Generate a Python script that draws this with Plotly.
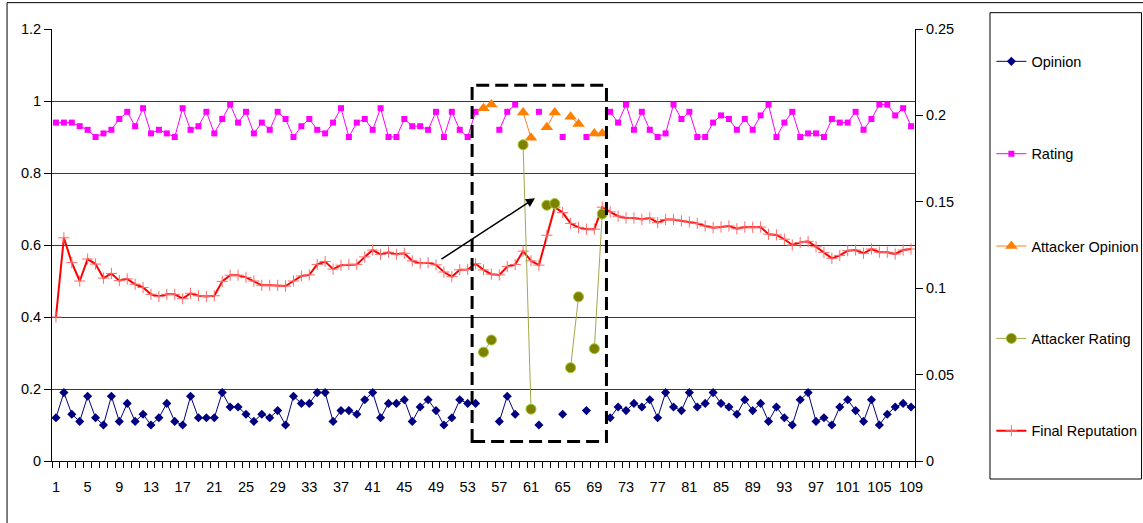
import plotly.graph_objects as go

# Round index (x axis categories 1..109)
rounds = list(range(1, 110))
N = None

opinion = [
    0.12, 0.19, 0.13, 0.11, 0.18, 0.12, 0.10, 0.18, 0.11, 0.16,
    0.11, 0.13, 0.10, 0.12, 0.16, 0.11, 0.10, 0.18, 0.12, 0.12,
    0.12, 0.19, 0.15, 0.15, 0.13, 0.11, 0.13, 0.12, 0.14, 0.10,
    0.18, 0.16, 0.16, 0.19, 0.19, 0.11, 0.14, 0.14, 0.13, 0.17,
    0.19, 0.12, 0.16, 0.16, 0.17, 0.11, 0.15, 0.17, 0.14, 0.10,
    0.12, 0.17, 0.16, 0.16, N, N, 0.11, 0.18, 0.13, N,
    N, 0.10, N, N, 0.13, N, N, 0.14, N, N,
    0.12, 0.15, 0.14, 0.16, 0.15, 0.17, 0.12, 0.19, 0.15, 0.14,
    0.19, 0.15, 0.16, 0.19, 0.16, 0.15, 0.13, 0.17, 0.14, 0.16,
    0.11, 0.15, 0.12, 0.10, 0.17, 0.19, 0.11, 0.12, 0.10, 0.15,
    0.17, 0.14, 0.11, 0.17, 0.10, 0.13, 0.15, 0.16, 0.15,
]

rating = [
    0.94, 0.94, 0.94, 0.93, 0.92, 0.90, 0.91, 0.92, 0.95, 0.97,
    0.93, 0.98, 0.91, 0.92, 0.91, 0.90, 0.98, 0.92, 0.93, 0.97,
    0.91, 0.95, 0.99, 0.94, 0.97, 0.91, 0.94, 0.92, 0.97, 0.95,
    0.90, 0.93, 0.95, 0.92, 0.91, 0.94, 0.98, 0.90, 0.94, 0.95,
    0.92, 0.98, 0.90, 0.90, 0.95, 0.93, 0.93, 0.92, 0.97, 0.90,
    0.97, 0.92, 0.90, 0.97, N, N, 0.92, 0.97, 0.99, N,
    N, 0.97, N, N, 0.90, N, N, 0.90, N, N,
    0.97, 0.94, 0.99, 0.92, 0.97, 0.92, 0.90, 0.91, 0.99, 0.95,
    0.97, 0.90, 0.90, 0.94, 0.96, 0.95, 0.92, 0.95, 0.92, 0.96,
    0.99, 0.90, 0.94, 0.97, 0.90, 0.91, 0.91, 0.90, 0.95, 0.94,
    0.94, 0.97, 0.92, 0.95, 0.99, 0.99, 0.96, 0.98, 0.93,
]

# Attack window
attack_rounds = list(range(55, 71))
attacker_opinion = [0.98, 0.99, N, N, N, 0.968, 0.898, N,
                    0.927, 0.968, N, 0.956, 0.936, N, 0.91, 0.91]
# Attacker rating is plotted against the secondary (right) axis
attacker_rating = [0.063, 0.070, N, N, N, 0.183, 0.030, N,
                   0.148, 0.149, N, 0.054, 0.095, N, 0.065, 0.143]

final_reputation = [
    0.40, 0.62, 0.551, 0.50, 0.561, 0.547, 0.508, 0.521, 0.501, 0.506,
    0.491, 0.482, 0.463, 0.457, 0.463, 0.463, 0.451, 0.466, 0.459, 0.457,
    0.459, 0.499, 0.516, 0.516, 0.51, 0.50, 0.488, 0.488, 0.488, 0.486,
    0.50, 0.514, 0.517, 0.546, 0.554, 0.533, 0.544, 0.546, 0.546, 0.567,
    0.586, 0.574, 0.58, 0.574, 0.577, 0.556, 0.549, 0.551, 0.545, 0.525,
    0.512, 0.531, 0.532, 0.548, 0.531, 0.519, 0.517, 0.54, 0.546, 0.583,
    0.556, 0.544, 0.627, 0.705, 0.69, 0.66, 0.649, 0.644, 0.644, 0.705,
    0.692, 0.68, 0.675, 0.675, 0.671, 0.675, 0.662, 0.671, 0.671, 0.667,
    0.664, 0.66, 0.653, 0.648, 0.65, 0.653, 0.645, 0.65, 0.649, 0.65,
    0.63, 0.628, 0.616, 0.60, 0.607, 0.61, 0.595, 0.579, 0.563, 0.571,
    0.584, 0.586, 0.577, 0.589, 0.58, 0.58, 0.575, 0.586, 0.589,
]

x_labels = list(range(1, 110, 4))

FONT = "Liberation Sans, Arial, sans-serif"

fig = go.Figure()

fig.add_trace(go.Scatter(
    x=rounds, y=opinion, name="Opinion", mode="lines+markers",
    line=dict(color="#000080", width=1),
    marker=dict(symbol="diamond", size=7, color="#000080"),
    legendgroup="g1",
))
fig.add_trace(go.Scatter(
    x=rounds, y=rating, name="Rating", mode="lines+markers",
    line=dict(color="#FF00FF", width=1),
    marker=dict(symbol="square", size=6, color="#FF00FF"),
    legendgroup="g2",
))
fig.add_trace(go.Scatter(
    x=attack_rounds, y=attacker_opinion, name="Attacker Opinion",
    mode="lines+markers",
    line=dict(color="#FF7F27", width=1),
    marker=dict(symbol="triangle-up", size=11, color="#FF8000"),
    legendgroup="g3",
))
fig.add_trace(go.Scatter(
    x=attack_rounds, y=attacker_rating, name="Attacker Rating",
    mode="lines+markers", yaxis="y2",
    line=dict(color="#A6A64D", width=1),
    marker=dict(symbol="circle", size=10, color="#808000",
                line=dict(color="#9ACD32", width=1)),
    legendgroup="g4",
))
fig.add_trace(go.Scatter(
    x=rounds, y=final_reputation, name="Final Reputation",
    mode="lines+markers",
    line=dict(color="#FF0000", width=2),
    marker=dict(symbol="cross-thin", size=8,
                line=dict(color="#FF6A6A", width=1)),
    legendgroup="g5",
))

# Dashed frame around the attack window and arrow pointing into it
fig.add_shape(type="rect", xref="x", yref="y",
              x0=53.56, x1=70.53, y0=0.054, y1=1.044,
              line=dict(color="black", width=3, dash="13px,6px"),
              layer="above")
fig.add_annotation(x=61.5, y=0.73, ax=49.5, ay=0.558,
                   xref="x", yref="y", axref="x", ayref="y",
                   showarrow=True, arrowhead=2, arrowsize=1.2,
                   arrowwidth=1.5, arrowcolor="black", text="")

# Legend frame and outer chart border
fig.add_shape(type="rect", xref="paper", yref="paper",
              x0=1.0869, x1=1.2625, y0=-0.0417, y1=1.0378,
              line=dict(color="black", width=1))
fig.add_shape(type="rect", xref="paper", yref="paper",
              x0=-0.0521, x1=1.30, y0=-0.20, y1=1.061,
              line=dict(color="black", width=1))

fig.update_layout(
    width=1143, height=523,
    margin=dict(l=52, r=228, t=29, b=62, autoexpand=False),
    paper_bgcolor="white", plot_bgcolor="white",
    font=dict(family=FONT, size=14.5, color="black"),
    showlegend=True,
    legend=dict(
        x=1.0885, y=0.962, xanchor="left", yanchor="top",
        tracegroupgap=70.5, itemwidth=30,
        bgcolor="rgba(0,0,0,0)", borderwidth=0,
        font=dict(family=FONT, size=14.5, color="black"),
    ),
    xaxis=dict(
        range=[0.5, 109.5], tickmode="array", tickvals=x_labels,
        ticktext=[str(v) for v in x_labels],
        ticks="outside", ticklen=0, tickcolor="black",
        ticklabelstandoff=13,
        minor=dict(tick0=0.5, dtick=1, ticks="outside", ticklen=6,
                   tickcolor="black", showgrid=False),
        showline=True, linecolor="black", linewidth=1,
        showgrid=False, zeroline=False,
        tickfont=dict(family=FONT, size=14.5, color="black"),
    ),
    yaxis=dict(
        range=[0, 1.2], dtick=0.2, tick0=0,
        ticks="outside", ticklen=7, tickcolor="black",
        showline=True, linecolor="black", linewidth=1,
        showgrid=True, gridcolor="#3a3a3a", gridwidth=1,
        zeroline=False,
        tickfont=dict(family=FONT, size=14.5, color="black"),
    ),
    yaxis2=dict(
        range=[0, 0.25], dtick=0.05, tick0=0,
        overlaying="y", side="right", anchor="x",
        ticks="outside", ticklen=7, tickcolor="black",
        showline=True, linecolor="black", linewidth=1,
        showgrid=False, zeroline=False,
        tickfont=dict(family=FONT, size=14.5, color="black"),
    ),
)

fig.write_html("out.html")
